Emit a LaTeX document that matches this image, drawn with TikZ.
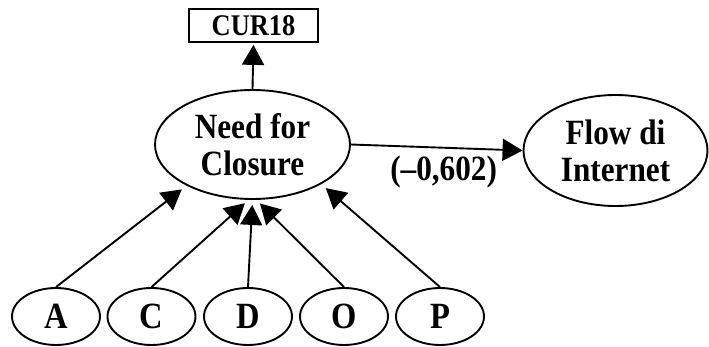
\documentclass[tikz,border=0pt]{standalone}
\usepackage{fontspec}
\setmainfont{Liberation Serif}[FakeStretch=0.88]
\usetikzlibrary{shapes.geometric,arrows.meta}
\begin{document}
\begin{tikzpicture}[x=1pt,y=-1pt,
  big/.style={font=\fontsize{35.5}{37}\selectfont\bfseries},
  oval/.style={draw, ellipse, line width=1.9pt, inner sep=0pt, align=center, big},
  smalloval/.style={oval, minimum width=88pt, minimum height=57pt, font=\fontsize{37}{37}\selectfont\bfseries},
  boxnode/.style={draw, line width=1.8pt, minimum width=129pt, minimum height=33pt, inner sep=0pt, font=\fontsize{30}{30}\selectfont\bfseries},
  arr/.style={line width=1.9pt, -{Triangle[length=20pt,width=22pt]}}
]
\useasboundingbox (0,0) rectangle (709,347);
\node[oval, minimum width=195pt, minimum height=109pt] (nfc) at (252.5,144.5) {Need for\\Closure};
\node[oval, minimum width=184pt, minimum height=111pt] (flow) at (615.5,150.5) {Flow di\\Internet};
\node[boxnode] (cur) at (253.5,25.5) {CUR18};
\node[smalloval] (a) at (56,316.5) {A};
\node[smalloval] (c) at (151.5,316.5) {C};
\node[smalloval] (d) at (248,316.5) {D};
\node[smalloval] (o) at (344,316.5) {O};
\node[smalloval] (p) at (440,316.5) {P};
\draw[arr, shorten >=2pt] (nfc.north) -- (cur.south);
\draw[arr] (nfc.east) -- node[pos=0.54, below=7pt, inner sep=0pt, big] (lbl) {(–0,602)} (flow.west);
\draw[arr, shorten >=6pt] (a.north) -- (nfc.212);
\draw[arr, shorten >=5pt] (c.north) -- (nfc.266);
\draw[arr, shorten >=5pt] (d.north) -- (nfc.270);
\draw[arr, shorten >=5pt] (o.north) -- (nfc.274);
\draw[arr, shorten >=6pt] (p.north) -- (nfc.330);
\end{tikzpicture}
\end{document}
